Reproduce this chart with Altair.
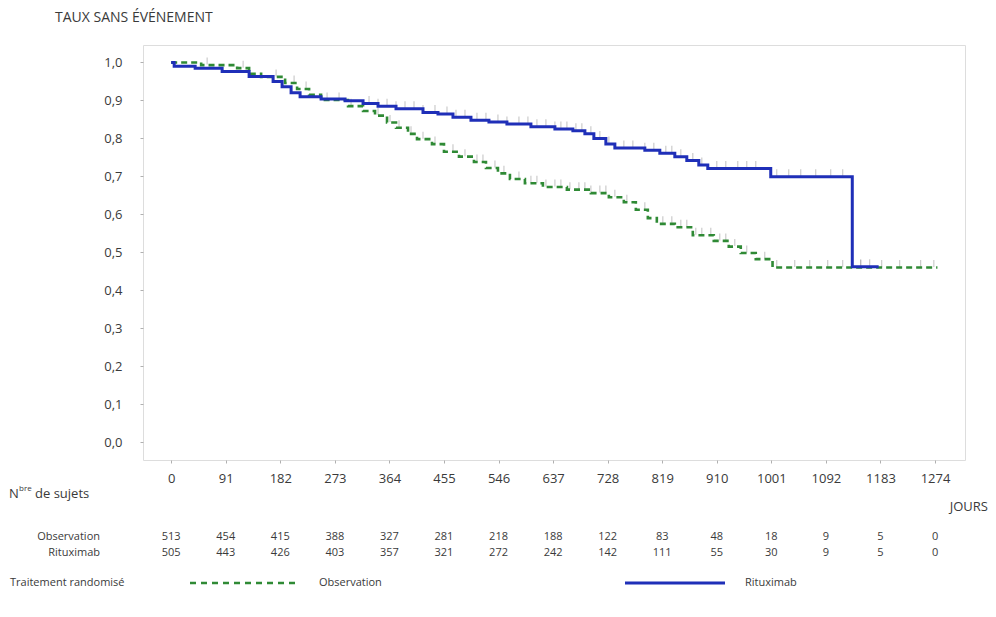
import altair as alt
import pandas as pd

# ---- data ----
tick_days = [0, 91, 182, 273, 364, 455, 546, 637, 728, 819, 910, 1001, 1092, 1183, 1274]
y_ticks = [0.0, 0.1, 0.2, 0.3, 0.4, 0.5, 0.6, 0.7, 0.8, 0.9, 1.0]

obs_at_risk = [513, 454, 415, 388, 327, 281, 218, 188, 122, 83, 48, 18, 9, 5, 0]
rit_at_risk = [505, 443, 426, 403, 357, 321, 272, 242, 142, 111, 55, 30, 9, 5, 0]

# Kaplan-Meier steps (day, event-free rate)
obs_days = [0, 50, 110, 130, 150, 190, 210, 230, 250, 295, 320, 340, 360, 375, 395, 410,
            435, 455, 480, 505, 525, 545, 565, 590, 620, 660, 700, 730, 755, 775, 795,
            810, 840, 870, 905, 930, 950, 975, 1003, 1278]
obs_surv = [1.0, 0.993, 0.985, 0.970, 0.962, 0.946, 0.930, 0.915, 0.901, 0.885, 0.872,
            0.860, 0.842, 0.828, 0.812, 0.798, 0.785, 0.765, 0.752, 0.738, 0.722, 0.708,
            0.693, 0.682, 0.672, 0.665, 0.656, 0.645, 0.632, 0.612, 0.590, 0.575, 0.566,
            0.545, 0.530, 0.515, 0.498, 0.482, 0.460, 0.460]

rit_days = [0, 5, 40, 85, 130, 170, 185, 200, 215, 250, 290, 320, 345, 375, 420, 445, 470,
            500, 530, 560, 600, 640, 670, 690, 705, 725, 740, 790, 815, 840, 860, 880, 895,
            1000, 1136, 1180]
rit_surv = [1.0, 0.990, 0.985, 0.976, 0.963, 0.950, 0.936, 0.920, 0.910, 0.904, 0.899,
            0.892, 0.885, 0.878, 0.868, 0.864, 0.856, 0.848, 0.843, 0.838, 0.831, 0.825,
            0.820, 0.812, 0.800, 0.785, 0.775, 0.769, 0.761, 0.752, 0.742, 0.730, 0.721,
            0.699, 0.462, 0.462]

# censored subjects (tick marks)
obs_censor = [60, 120, 175, 205, 225, 260, 280, 300, 345, 365, 380, 400, 420, 440, 470, 490,
              510, 520, 540, 555, 580, 600, 610, 625, 640, 650, 665, 680, 690, 700, 715, 725,
              740, 760, 790, 820, 835, 850, 860, 875, 885, 900, 915, 925, 940, 960, 990,
              1010, 1040, 1065, 1095, 1120, 1150, 1185, 1215, 1250, 1272]
rit_censor = [330, 345, 360, 375, 390, 405, 420, 440, 460, 475, 490, 510, 525, 545, 560, 580,
              595, 610, 625, 640, 650, 660, 675, 685, 700, 715, 730, 755, 770, 790, 805, 825,
              835, 850, 870, 885, 910, 925, 945, 960, 975, 1010, 1030, 1050, 1075, 1100,
              1120, 1150, 1165]


def step_value(days, surv, t):
    v = surv[0]
    for d, s in zip(days, surv):
        if d <= t:
            v = s
    return v


obs_df = pd.DataFrame({"day": obs_days, "rate": obs_surv})
rit_df = pd.DataFrame({"day": rit_days, "rate": rit_surv})
cens_df = pd.DataFrame(
    {"day": obs_censor + rit_censor,
     "rate": [step_value(obs_days, obs_surv, t) for t in obs_censor]
     + [step_value(rit_days, rit_surv, t) for t in rit_censor]}
)
risk_df = pd.DataFrame({"day": tick_days, "obs": obs_at_risk, "rit": rit_at_risk})

FONT = "Open Sans"
TXT = "#3a3a3a"
GREEN = "#2f8a35"
BLUE = "#1f2fb8"

xs = alt.Scale(domain=[-47, 1324], nice=False, zero=False)
ys = alt.Scale(domain=[-0.047, 1.046], nice=False, zero=False)

x_axis = alt.Axis(values=tick_days, title=None, grid=False, domain=False, tickSize=3,
                  tickColor="#b0b0b0", labelPadding=9, labelFontSize=13, labelColor=TXT,
                  labelFont=FONT, labelFlush=False, format="d")
y_axis = alt.Axis(values=y_ticks, title=None, grid=False, domain=False, tickSize=3,
                  tickColor="#b0b0b0", labelPadding=18, labelFontSize=13, labelColor=TXT,
                  labelFont=FONT,
                  labelExpr="replace(format(datum.value, '.1f'), '.', ',')")

obs_line = alt.Chart(obs_df).mark_line(
    interpolate="step-after", color=GREEN, strokeWidth=2.6, strokeDash=[6, 4]
).encode(x=alt.X("day:Q", scale=xs, axis=x_axis), y=alt.Y("rate:Q", scale=ys, axis=y_axis))

rit_line = alt.Chart(rit_df).mark_line(
    interpolate="step-after", color=BLUE, strokeWidth=3
).encode(x=alt.X("day:Q", scale=xs), y=alt.Y("rate:Q", scale=ys))

censor = alt.Chart(cens_df).mark_tick(
    color="#a8a8a8", opacity=0.6, thickness=1.2, size=7, yOffset=-4
).encode(x=alt.X("day:Q", scale=xs), y=alt.Y("rate:Q", scale=ys))

obs_row = alt.Chart(risk_df).mark_text(font=FONT, fontSize=11, color=TXT).encode(
    x=alt.X("day:Q", scale=xs), y=alt.value(492), text="obs:N")
rit_row = alt.Chart(risk_df).mark_text(font=FONT, fontSize=11, color=TXT).encode(
    x=alt.X("day:Q", scale=xs), y=alt.value(508), text="rit:N")

one = pd.DataFrame({"a": [0]})


def label(text, x, y, size=13, align="left", color=TXT, weight="normal"):
    return alt.Chart(one).mark_text(
        text=text, font=FONT, fontSize=size, align=align, baseline="middle",
        color=color, fontWeight=weight
    ).encode(x=alt.value(x), y=alt.value(y))


texts = [
    label("TAUX SANS ÉVÉNEMENT", -88, -27, size=14),
    label("N", -134, 449, size=13),
    label("bre", -124, 444, size=8),
    label("de sujets", -108, 449, size=13),
    label("JOURS", 845, 462, size=13, align="right"),
    label("Observation", -43, 492, size=11, align="right"),
    label("Rituximab", -43, 508, size=11, align="right"),
    label("Traitement randomisé", -133, 538, size=11),
    label("Observation", 176, 538, size=11),
    label("Rituximab", 602, 538, size=11),
]

leg_obs = alt.Chart(one).mark_rule(color=GREEN, strokeWidth=2.6, strokeDash=[6, 5]).encode(
    x=alt.value(47), x2=alt.value(157), y=alt.value(538))
leg_rit = alt.Chart(one).mark_rule(color=BLUE, strokeWidth=3).encode(
    x=alt.value(482), x2=alt.value(582), y=alt.value(538))

chart = alt.layer(
    censor, obs_line, rit_line, obs_row, rit_row, leg_obs, leg_rit, *texts
).properties(
    width=822, height=415,
    autosize=alt.AutoSizeParams(type="none"),
    padding={"left": 135, "top": 37, "right": 23, "bottom": 149},
).configure_view(stroke="#8c8c8c", strokeWidth=1.5).configure(background="white")

chart.save("out.html", embed_options={"renderer": "svg", "actions": False})
